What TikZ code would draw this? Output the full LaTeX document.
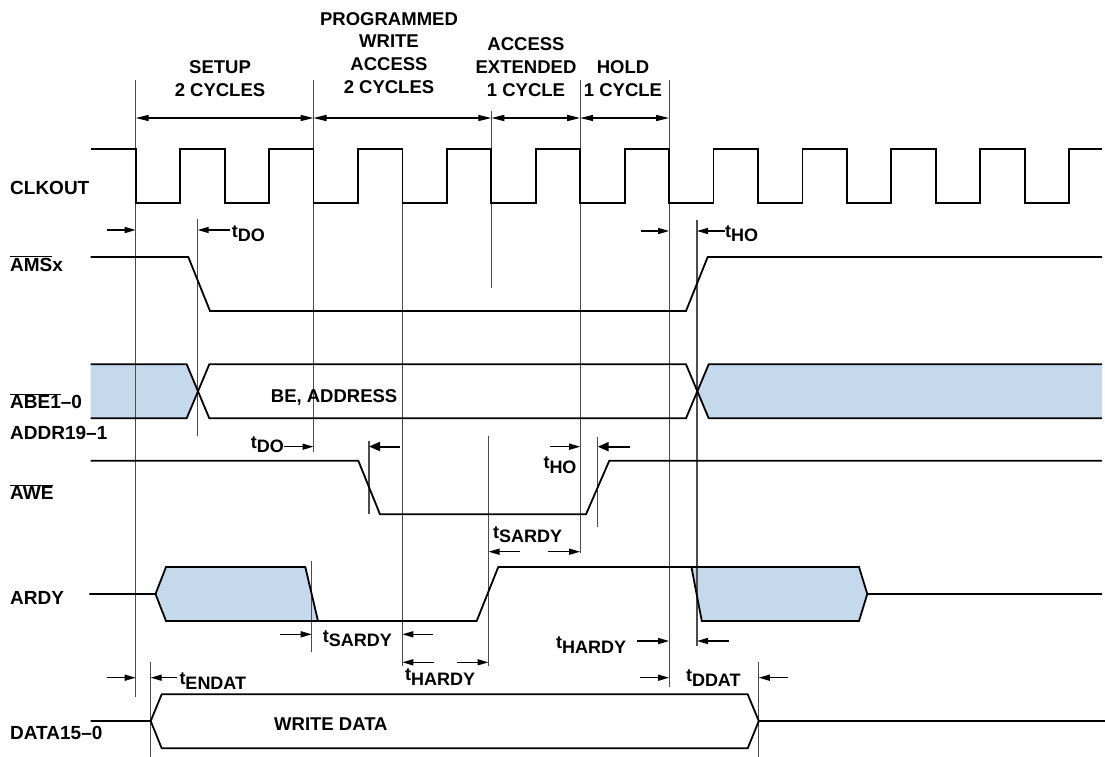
\documentclass[tikz,border=0pt]{standalone}
\usepackage{fontspec}
\setmainfont{Liberation Sans}
\usetikzlibrary{arrows.meta,positioning}
\definecolor{busblue}{RGB}{196,217,236}
\newcommand{\tname}[1]{\raisebox{4.4pt}{t}#1}
\newcommand{\ovl}[1]{$\overline{\mbox{#1}}$}

\begin{document}
\begin{tikzpicture}[x=1pt,y=-1pt,
  sig/.style={line width=1.8pt,line join=miter},
  guide/.style={line width=1.1pt,color=black!70},
  dim/.style={line width=1.4pt,-{Triangle[length=11pt,width=6pt]}},
  bolddim/.style={line width=2pt,-{Triangle[length=11pt,width=9pt]}},
  span/.style={line width=1.4pt,{Triangle[length=13pt,width=6pt]}-{Triangle[length=13pt,width=6pt]}},
  lbl/.style={anchor=base west,inner sep=0pt,font={\bfseries\fontsize{19}{22}\selectfont}},
  tlbl/.style={anchor=base west,inner sep=0pt,font={\bfseries\fontsize{18}{22}\selectfont}},
  head/.style={anchor=north,inner sep=0pt,align=center}]
\tikzset{font={\bfseries\fontsize{18.5}{22.7}\selectfont}}
\useasboundingbox (0,0) rectangle (1105,757);

%Header
\node[head] (setup) at (220,60.5) {SETUP\\2 CYCLES};
\node[head] (prog) at (389,12) {PROGRAMMED\\WRITE\\ACCESS\\2 CYCLES};
\node[head] (ext) at (526,37.5) {ACCESS\\EXTENDED\\1 CYCLE};
\node[head] (hold) at (623,60.5) {HOLD\\1 CYCLE};
\foreach \a/\b in {135.7/313.5,313.5/491.3,491.3/580.2,580.2/669.1}
\draw[span] (\a,118) -- (\b,118);

%Bus fills
\fill[busblue] (90.7,364.3) -- (186.7,364.3) -- (197.7,391.3) -- (186.7,418.3) -- (90.7,418.3) -- cycle;
\fill[busblue] (1102,364.3) -- (708.7,364.3) -- (697.3,391.3) -- (708.7,418.3) -- (1102,418.3) -- cycle;
\fill[busblue] (155.5,594) -- (166,567) -- (305.3,567) -- (318,621) -- (166,621) -- cycle;
\fill[busblue] (691.4,567) -- (859,567) -- (867.3,594) -- (859,621) -- (701.8,621) -- cycle;

%Guide lines
\foreach \x/\a/\b in {135.7/80/696.7, 197.7/219/436, 313.5/80/452, 369/440.7/514.3,
  402.3/202.7/665.7, 491.3/111/287.7, 488.5/436/665.7, 580.2/80/553, 597.7/437.3/526.7,
  669.1/80/687.3, 697/220/645.7, 758.8/662/757, 150.7/662/757, 311.7/561/651.7}
\draw[guide] (\x,\a) -- (\x,\b);

%Signal names
\node[lbl] (clkout) at (10,194) {CLKOUT};
\node[lbl] (ams) at (10,271) {\ovl{AMS}x};
\node[lbl] (abe) at (10,408.3) {\ovl{ABE1}–0};
\node[lbl] (addr) at (10,439.9) {ADDR19–1};
\node[lbl] (awe) at (10,499.9) {\ovl{AWE}};
\node[lbl] (ardy) at (10,604.9) {ARDY};
\node[lbl] (data) at (10,739.3) {DATA15–0};

%CLKOUT
\draw[sig] (90.7,149.3) -- (135.7,149.3)
  \foreach \k in {0,...,9} { -- ++(0,53.4) -- ++(44.45,0) -- ++(0,-53.4) -- ++(44.45,0) }
  -- ++(0,53.4) -- ++(44.45,0) -- ++(0,-53.4) -- (1102,149.3);

%AMSx
\draw[sig] (90.7,257) -- (188.3,257) -- (210,311) -- (686,311) -- (707.7,257) -- (1102,257);

%ABE / ADDR
\draw[sig] (90.7,364.3) -- (186.7,364.3) -- (209.3,418.3) -- (686,418.3) -- (708.7,364.3) -- (1102,364.3);
\draw[sig] (90.7,418.3) -- (186.7,418.3) -- (209.3,364.3) -- (686,364.3) -- (708.7,418.3) -- (1102,418.3);
\node[anchor=base west,inner sep=0pt] (beaddr) at (270.7,402.3) {BE, ADDRESS};

%AWE
\draw[sig] (90.7,460.7) -- (358.3,460.7) -- (380,514.3) -- (586,514.3) -- (609.3,460.7) -- (1102,460.7);

%ARDY
\draw[sig] (89.3,594) -- (155.5,594) -- (166,567) -- (305.3,567) -- (318,621) -- (476.7,621)
  -- (498.3,567) -- (859,567) -- (867.3,594) -- (1102,594);
\draw[sig] (155.5,594) -- (166,621) -- (318,621);
\draw[sig] (691.4,567) -- (701.8,621) -- (859,621) -- (867.3,594);

%DATA
\draw[sig] (90.7,721) -- (150.7,721) -- (161.7,694.3) -- (747.7,694.3) -- (758.8,721) -- (1105,721);
\draw[sig] (150.7,721) -- (161.7,748.3) -- (747.7,748.3) -- (758.8,721);
\node[anchor=base west,inner sep=0pt] (wdata) at (274,730.6) {WRITE DATA};

%Timing arrows
\foreach \a/\b/\y in {107/135.7/230, 230/197.7/230, 640.7/669.1/231, 725/697/231,
  284/313.5/446.7, 550/580.2/446.7, 520/488.5/551.7, 548.3/580.2/551.7,
  280/311.7/634.3, 433.3/402.3/634.3, 637/669.1/641, 728.6/697/641,
  434/402.3/662.3, 456.7/488.5/662.3, 107/135.7/677.7, 176.7/150.7/677.7,
  640/669.1/677.7, 788.4/758.8/677.7}
\draw[dim] (\a,\y) -- (\b,\y);
\draw[bolddim] (400,446.5) -- (369,446.5);
\draw[bolddim] (630,446.7) -- (597.7,446.7);

%Timing labels
\node[tlbl] (tdo1) at (231.7,241.7) {\tname{DO}};
\node[tlbl] (tho1) at (725,241.7) {\tname{HO}};
\node[tlbl] (tdo2) at (250.7,452.7) {\tname{DO}};
\node[tlbl] (tho2) at (543.3,473.3) {\tname{HO}};
\node[tlbl] (tsardy1) at (493,542.7) {\tname{SARDY}};
\node[tlbl] (tsardy2) at (322.7,646.7) {\tname{SARDY}};
\node[tlbl] (thardy1) at (556,653.3) {\tname{HARDY}};
\node[tlbl] (thardy2) at (405,685) {\tname{HARDY}};
\node[tlbl] (tendat) at (179.3,689.3) {\tname{ENDAT}};
\node[tlbl] (tddat) at (685.8,686) {\tname{DDAT}};

\end{tikzpicture}
\end{document}
